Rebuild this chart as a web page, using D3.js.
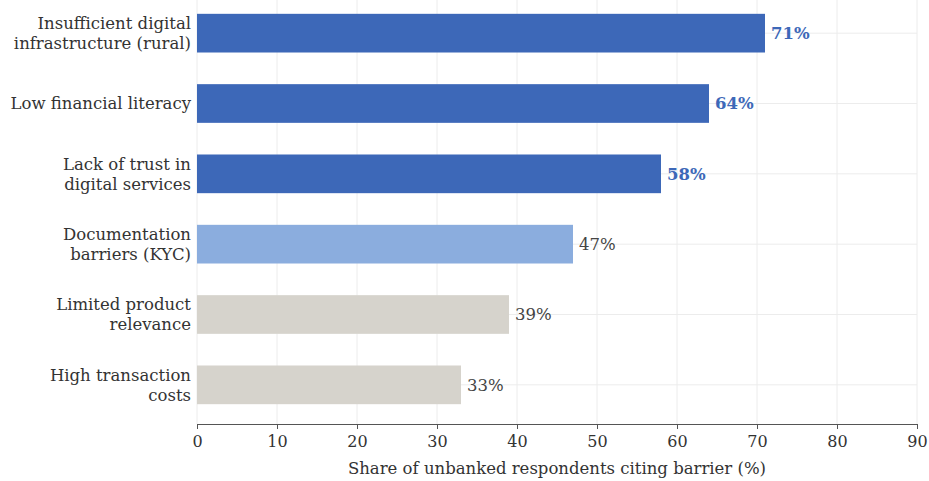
<!DOCTYPE html>
<html><head><meta charset="utf-8">
<script src="https://cdn.jsdelivr.net/npm/d3@7"></script>
<style>body{margin:0;background:#fff}svg{display:block}</style>
</head><body>
<svg id="c" width="929" height="481"></svg>
<script>
const categories = [
  ["Insufficient digital","infrastructure (rural)"],
  ["Low financial literacy"],
  ["Lack of trust in","digital services"],
  ["Documentation","barriers (KYC)"],
  ["Limited product","relevance"],
  ["High transaction","costs"]
];
const values = [71, 64, 58, 47, 39, 33];
const tiers = ["top","top","top","mid","low","low"];
const xTicks = [0,10,20,30,40,50,60,70,80,90];
const xTitle = "Share of unbanked respondents citing barrier (%)";

const barColor = {top:"#3d68b8", mid:"#8badde", low:"#d6d3cc"};
const labelColor = {top:"#3d68b8", mid:"#444", low:"#444"};
const font = "'DejaVu Serif', serif";

const svg = d3.select("#c");
const x = d3.scaleLinear().domain([0,90]).range([197,917]);
const y = d3.scaleBand().domain(d3.range(categories.length)).range([-2,420]).paddingInner(0.45).paddingOuter(0.225);
const axisY = 424;

// grid
svg.append("g").selectAll("line").data(xTicks).join("line")
  .attr("x1",d=>x(d)).attr("x2",d=>x(d)).attr("y1",0).attr("y2",axisY)
  .attr("stroke","#ececec").attr("stroke-width",1);
svg.append("g").selectAll("line").data(d3.range(categories.length)).join("line")
  .attr("x1",x(0)).attr("x2",x(90)).attr("y1",i=>y(i)+y.bandwidth()/2).attr("y2",i=>y(i)+y.bandwidth()/2)
  .attr("stroke","#ececec").attr("stroke-width",1);

// bars
svg.append("g").selectAll("rect").data(values).join("rect")
  .attr("x",x(0)).attr("y",(d,i)=>y(i)).attr("width",d=>x(d)-x(0)).attr("height",y.bandwidth())
  .attr("fill",(d,i)=>barColor[tiers[i]]);

// value labels
svg.append("g").selectAll("text").data(values).join("text")
  .attr("x",d=>x(d)+6).attr("y",(d,i)=>y(i)+y.bandwidth()/2).attr("dy","0.35em")
  .attr("font-family",font).attr("font-size",16.5)
  .attr("font-weight",(d,i)=>tiers[i]==="top"?"bold":"normal")
  .attr("fill",(d,i)=>labelColor[tiers[i]])
  .text(d=>d+"%");

// category labels
const cg = svg.append("g");
categories.forEach((lines,i)=>{
  const cy = y(i)+y.bandwidth()/2;
  const t = cg.append("text").attr("x",191).attr("text-anchor","end")
    .attr("font-family",font).attr("font-size",16.5).attr("fill","#333");
  const lh = 20;
  lines.forEach((l,j)=>{
    t.append("tspan").attr("x",191).attr("y",cy + (j-(lines.length-1)/2)*lh).attr("dy","0.35em").text(l);
  });
});

// x axis
const ax = svg.append("g").attr("transform",`translate(0,${axisY})`)
  .call(d3.axisBottom(x).tickValues(xTicks).tickSize(5).tickSizeOuter(5).tickPadding(7));
ax.selectAll("path,line").attr("stroke","#555");
ax.selectAll("text").attr("font-family",font).attr("font-size",16).attr("fill","#333");

svg.append("text").attr("x",x(45)).attr("y",474).attr("text-anchor","middle")
  .attr("font-family",font).attr("font-size",16.5).attr("fill","#333").text(xTitle);
</script>
</body></html>
